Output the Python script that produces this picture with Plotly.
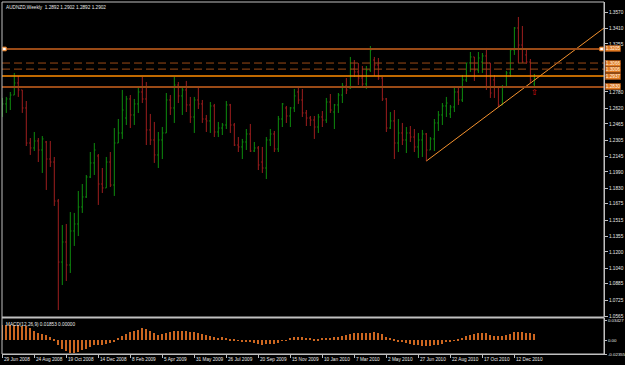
import plotly.graph_objects as go

# ---------------- data (AUDNZD weekly, bars from 29 Jun 2008) ----------------
opens = [1.2563,1.2662,1.2711,1.2750,1.2869,1.2800,1.2622,1.2276,1.2227,1.2296,
         1.2207,1.2286,1.2118,1.2088,1.1703,1.1100,1.1298,1.1071,1.1407,1.1476,
         1.1644,1.1743,1.1940,1.2079,1.2148,1.1871,1.1832,1.2088,1.1861,1.2276,
         1.2375,1.2523,1.2711,1.2553,1.2662,1.2780,1.2711,1.2405,1.2306,1.2158,
         1.2306,1.2375,1.2701,1.2622,1.2849,1.2741,1.2800,1.2652,1.2533,1.2701,
         1.2662,1.2513,1.2494,1.2642,1.2385,1.2424,1.2454,1.2652,1.2454,1.2256,
         1.2237,1.2286,1.2365,1.2197,1.2227,1.2088,1.2029,1.2306,1.2365,1.2217,
         1.2513,1.2622,1.2543,1.2622,1.2780,1.2701,1.2573,1.2523,1.2503,1.2434,
         1.2533,1.2503,1.2681,1.2582,1.2652,1.2750,1.2839,1.2820,1.3007,1.2978,
         1.2918,1.2859,1.2997,1.3096,1.3047,1.2918,1.2711,1.2424,1.2494,1.2276,
         1.2375,1.2306,1.2375,1.2335,1.2237,1.2306,1.2365,1.2207,1.2316,1.2474,
         1.2553,1.2642,1.2563,1.2632,1.2780,1.2701,1.2899,1.3067,1.3126,1.2997,
         1.3076,1.3136,1.3067,1.2899,1.2829,1.2652,1.2829,1.2968,1.3195,1.3412,
         1.3244,1.3146,1.3076,1.2859]
highs = [1.2721,1.2731,1.2780,1.2968,1.2938,1.2800,1.2691,1.2325,1.2385,1.2325,
         1.2345,1.2296,1.2296,1.2138,1.1723,1.1466,1.1476,1.1594,1.1585,1.1802,
         1.1871,1.1960,1.2187,1.2276,1.2167,1.2029,1.2138,1.2187,1.2424,1.2513,
         1.2800,1.2741,1.2750,1.2711,1.2820,1.2928,1.2879,1.2563,1.2484,1.2385,
         1.2434,1.2770,1.2750,1.2928,1.2879,1.2839,1.2889,1.2731,1.2731,1.2829,
         1.2701,1.2553,1.2681,1.2662,1.2484,1.2474,1.2691,1.2662,1.2474,1.2335,
         1.2316,1.2414,1.2464,1.2286,1.2246,1.2237,1.2335,1.2414,1.2395,1.2543,
         1.2671,1.2642,1.2632,1.2810,1.2829,1.2810,1.2602,1.2543,1.2543,1.2563,
         1.2592,1.2721,1.2760,1.2662,1.2770,1.2869,1.2918,1.3126,1.3096,1.3067,
         1.3037,1.3037,1.3234,1.3126,1.3116,1.2928,1.2721,1.2582,1.2602,1.2513,
         1.2474,1.2434,1.2444,1.2414,1.2375,1.2405,1.2375,1.2335,1.2513,1.2592,
         1.2671,1.2731,1.2652,1.2829,1.2829,1.2948,1.3067,1.3175,1.3126,1.3175,
         1.3165,1.3215,1.3067,1.2948,1.2839,1.2849,1.2988,1.3215,1.3422,1.3521,
         1.3432,1.3205,1.3106,1.2958]
lows = [1.2533,1.2573,1.2602,1.2750,1.2731,1.2573,1.2246,1.2158,1.2197,1.2088,
        1.1980,1.1812,1.2039,1.1654,1.0626,1.0873,1.0913,1.0992,1.1259,1.1357,
        1.1585,1.1733,1.1930,1.1960,1.1664,1.1782,1.1832,1.1841,1.1753,1.2276,
        1.2316,1.2454,1.2424,1.2454,1.2573,1.2671,1.2256,1.2256,1.2079,1.2029,
        1.2118,1.2375,1.2553,1.2474,1.2671,1.2553,1.2582,1.2474,1.2375,1.2612,
        1.2474,1.2385,1.2375,1.2335,1.2335,1.2355,1.2414,1.2375,1.2246,1.2187,
        1.2118,1.2207,1.2187,1.2187,1.2009,1.1980,1.1920,1.2246,1.2187,1.2187,
        1.2434,1.2474,1.2434,1.2582,1.2662,1.2533,1.2444,1.2444,1.2316,1.2375,
        1.2434,1.2474,1.2573,1.2414,1.2573,1.2671,1.2760,1.2810,1.2928,1.2849,
        1.2820,1.2810,1.2978,1.2938,1.2899,1.2691,1.2385,1.2414,1.2118,1.2187,
        1.2256,1.2177,1.2286,1.2187,1.2128,1.2138,1.2098,1.2207,1.2197,1.2395,
        1.2454,1.2533,1.2523,1.2582,1.2652,1.2681,1.2879,1.2978,1.2889,1.2968,
        1.2968,1.2800,1.2721,1.2721,1.2632,1.2652,1.2829,1.2928,1.3146,1.3067,
        1.3067,1.3057,1.2869,1.2829]
closes = [1.2662,1.2711,1.2750,1.2869,1.2800,1.2622,1.2276,1.2227,1.2296,1.2207,
          1.2316,1.2118,1.2088,1.1703,1.1100,1.1298,1.1071,1.1407,1.1476,1.1644,
          1.1743,1.1940,1.2079,1.2207,1.1871,1.1832,1.2088,1.1861,1.2276,1.2375,
          1.2602,1.2711,1.2553,1.2662,1.2780,1.2711,1.2405,1.2306,1.2158,1.2306,
          1.2375,1.2701,1.2622,1.2849,1.2741,1.2800,1.2652,1.2533,1.2701,1.2662,
          1.2513,1.2494,1.2642,1.2385,1.2424,1.2454,1.2652,1.2454,1.2256,1.2237,
          1.2286,1.2365,1.2197,1.2227,1.2059,1.2029,1.2306,1.2365,1.2217,1.2513,
          1.2662,1.2543,1.2622,1.2741,1.2701,1.2573,1.2523,1.2503,1.2434,1.2533,
          1.2503,1.2681,1.2602,1.2652,1.2750,1.2839,1.2800,1.3007,1.2978,1.2918,
          1.2859,1.2997,1.3195,1.3047,1.2918,1.2711,1.2424,1.2494,1.2276,1.2375,
          1.2306,1.2375,1.2335,1.2237,1.2306,1.2365,1.2207,1.2316,1.2474,1.2553,
          1.2642,1.2671,1.2632,1.2780,1.2701,1.2899,1.3067,1.3126,1.2997,1.3116,
          1.3136,1.3067,1.2770,1.2829,1.2652,1.2829,1.2968,1.3195,1.3412,1.3244,
          1.3076,1.3076,1.2899,1.2902]
macd_hist = [0.0272,0.0272,0.0272,0.0272,0.0261,0.0255,0.0249,0.0210,0.0159,0.0136,
             0.0113,0.0096,0.0068,0.0028,-0.0074,-0.0142,-0.0187,-0.0210,-0.0210,-0.0198,
             -0.0170,-0.0142,-0.0113,-0.0085,-0.0074,-0.0074,-0.0057,-0.0045,-0.0028,0.0040,
             0.0074,0.0113,0.0142,0.0159,0.0187,0.0210,0.0198,0.0170,0.0125,0.0096,
             0.0113,0.0130,0.0142,0.0159,0.0170,0.0170,0.0159,0.0153,0.0142,0.0125,
             0.0113,0.0102,0.0085,0.0068,0.0051,0.0057,0.0045,0.0028,0.0011,-0.0006,
             -0.0011,-0.0017,-0.0028,-0.0045,-0.0062,-0.0074,-0.0068,-0.0057,-0.0057,-0.0045,
             -0.0006,0.0006,0.0045,0.0062,0.0068,0.0062,0.0045,0.0040,0.0028,0.0028,
             0.0040,0.0045,0.0045,0.0057,0.0068,0.0079,0.0096,0.0113,0.0130,0.0130,
             0.0130,0.0130,0.0136,0.0142,0.0130,0.0108,0.0068,0.0040,0.0011,-0.0017,
             -0.0028,-0.0045,-0.0057,-0.0074,-0.0085,-0.0096,-0.0102,-0.0096,-0.0085,-0.0074,
             -0.0057,-0.0034,-0.0011,0.0006,0.0023,0.0040,0.0074,0.0102,0.0113,0.0136,
             0.0130,0.0125,0.0102,0.0085,0.0074,0.0079,0.0096,0.0113,0.0142,0.0153,
             0.0147,0.0136,0.0125,0.0113]

date_labels = ["29 Jun 2008", "24 Aug 2008", "19 Oct 2008", "14 Dec 2008", "8 Feb 2009",
               "5 Apr 2009", "31 May 2009", "26 Jul 2009", "20 Sep 2009", "15 Nov 2009",
               "10 Jan 2010", "7 Mar 2010", "2 May 2010", "27 Jun 2010", "22 Aug 2010",
               "17 Oct 2010", "12 Dec 2010"]
date_label_bars = [0, 8, 16, 24, 32, 40, 48, 56, 64, 72, 80, 88, 96, 104, 112, 120, 128]

# tick levels of the price scale; labels covered by the level boxes are left blank
price_tick_vals = [1.3570, 1.3410, 1.3255, 1.3095, 1.2940, 1.2780, 1.2620,
                   1.2465, 1.2305, 1.2145, 1.1990, 1.1830, 1.1675, 1.1515,
                   1.1355, 1.1200, 1.1040, 1.0885, 1.0725, 1.0565]
price_tick_text = ["1.3570", "1.3410", "1.3255", "", "", "1.2780", "1.2620",
                   "1.2465", "1.2305", "1.2145", "1.1990", "1.1830", "1.1675", "1.1515",
                   "1.1355", "1.1200", "1.1040", "1.0885", "1.0725", "1.0565"]
macd_tick_vals = [0.03427, 0.0, -0.02355]
macd_tick_text = ["0.03427", "0.00", "-0.02355"]

# horizontal levels: (price, label, style)
level_prices = [1.3205, 1.3066, 1.3006, 1.2937, 1.2830]
level_labels = ["1.3205", "1.3066", "1.3006", "1.2937", "1.2830"]
level_styles = ["brown", "dash", "dash", "orange", "brown"]

trend_bars = [106, 133]
trend_prices = [1.2098, 1.2897]
arrow_bar = 133
arrow_price = 1.2775

title_text = "AUDNZD,Weekly  1.2892 1.2902 1.2892 1.2902"
macd_title = "MACD(12,26,9) 0.01853 0.00000"

# ---------------- styling ----------------
GREEN = "#0E8C0E"
RED = "#9E1E1E"
BROWN = "#9A4A16"
ORANGE = "#FF8C00"
TREND = "#F5922E"
HIST = "#CC6620"
FRAME = "#C0C0C0"
TXT = "#E8E8E8"
FONT = "Liberation Sans"
FS = 4.7

n = len(closes)
xs = list(range(n))
X_RANGE = [-0.075, 150.4]
Y_RANGE = [1.0557, 1.3669]
M_RANGE = [-0.02355, 0.0390]

fig = go.Figure()
fig.add_trace(go.Ohlc(
    x=xs, open=opens, high=highs, low=lows, close=closes,
    increasing=dict(line=dict(color=GREEN, width=1)),
    decreasing=dict(line=dict(color=RED, width=1)),
    tickwidth=0.3, xaxis="x", yaxis="y", showlegend=False, hoverinfo="skip"))

fig.add_trace(go.Bar(
    x=xs, y=macd_hist, width=0.25, marker=dict(color=HIST, line=dict(width=0)),
    xaxis="x2", yaxis="y2", showlegend=False, hoverinfo="skip"))

# trendline ray extended to the right edge
slope = (trend_prices[1] - trend_prices[0]) / (trend_bars[1] - trend_bars[0])
tx = [trend_bars[0], X_RANGE[1]]
ty = [trend_prices[0], trend_prices[0] + slope * (X_RANGE[1] - trend_bars[0])]
fig.add_trace(go.Scatter(x=tx, y=ty, mode="lines", line=dict(color=TREND, width=1),
                         xaxis="x", yaxis="y", showlegend=False, hoverinfo="skip"))

shapes = []
annotations = []
for p, lab, st in zip(level_prices, level_labels, level_styles):
    if st == "brown":
        line = dict(color=BROWN, width=2)
    elif st == "dash":
        line = dict(color=BROWN, width=1, dash="8px,4px")
    else:
        line = dict(color=ORANGE, width=1.5)
    shapes.append(dict(type="line", xref="paper", yref="y", x0=0, x1=1, y0=p, y1=p,
                       line=line, layer="above"))
    annotations.append(dict(xref="paper", yref="y", x=1, y=p, xanchor="left", yanchor="middle",
                            xshift=1, text=lab, showarrow=False, bgcolor="#E07A22",
                            bordercolor="#7A3A10", borderwidth=0.5, borderpad=0.3,
                            font=dict(family=FONT, size=FS, color="#FFF4E0")))

# arrow object below the last bar
annotations.append(dict(xref="x", yref="y", x=arrow_bar, y=arrow_price, text="⇧",
                        showarrow=False, xanchor="center", yanchor="middle",
                        font=dict(family="DejaVu Sans", size=8, color="#E01010")))

# selection handles of the top level line
for hx in [0.004, 0.996]:
    shapes.append(dict(type="rect", xref="paper", yref="y", x0=hx - 0.003, x1=hx + 0.003,
                       y0=level_prices[0] - 0.0018, y1=level_prices[0] + 0.0018,
                       line=dict(color="#F08020", width=1), fillcolor="#FFFFFF", layer="above"))

# frame lines
shapes.append(dict(type="rect", xref="paper", yref="paper", x0=0, x1=1, y0=0, y1=1,
                   line=dict(color=FRAME, width=1)))
shapes.append(dict(type="line", xref="paper", yref="paper", x0=0, x1=1, y0=0.1037, y1=0.1037,
                   line=dict(color=FRAME, width=2)))

annotations.append(dict(xref="paper", yref="paper", x=0, y=1, xanchor="left", yanchor="top",
                        xshift=2, yshift=-1, text=title_text, showarrow=False,
                        font=dict(family=FONT, size=FS, color=TXT)))
annotations.append(dict(xref="paper", yref="paper", x=0, y=0.1, xanchor="left", yanchor="top",
                        xshift=2, yshift=-1, text=macd_title, showarrow=False,
                        font=dict(family=FONT, size=FS, color=TXT)))
for b, lab in zip(date_label_bars, date_labels):
    annotations.append(dict(xref="x2", yref="paper", x=b, y=0, xanchor="left", yanchor="top",
                            xshift=0, yshift=-1, text=lab, showarrow=False,
                            font=dict(family=FONT, size=FS, color=TXT)))

axis_common = dict(showgrid=False, zeroline=False, automargin=False, fixedrange=True)

fig.update_layout(
    width=625, height=365, template="none",
    paper_bgcolor="#000000", plot_bgcolor="#000000",
    margin=dict(l=2, r=21, t=2, b=11),
    showlegend=False, bargap=0,
    xaxis=dict(domain=[0, 1], range=X_RANGE, anchor="y", showticklabels=False,
               ticks="", showline=False, rangeslider=dict(visible=False), **axis_common),
    xaxis2=dict(domain=[0, 1], range=X_RANGE, anchor="y2", showticklabels=False,
                ticks="outside", ticklen=3, tickcolor=FRAME, tickvals=date_label_bars,
                showline=True, linecolor=FRAME, linewidth=1, **axis_common),
    yaxis=dict(domain=[0.1051, 1], range=Y_RANGE, side="right", anchor="x",
               tickvals=price_tick_vals, ticktext=price_tick_text,
               ticks="outside", ticklen=3, tickcolor=FRAME,
               tickfont=dict(family=FONT, size=FS, color=TXT),
               showline=True, linecolor=FRAME, linewidth=1, **axis_common),
    yaxis2=dict(domain=[0, 0.1023], range=M_RANGE, side="right", anchor="x2",
                tickvals=macd_tick_vals, ticktext=macd_tick_text,
                ticks="outside", ticklen=2, tickcolor=FRAME,
                tickfont=dict(family=FONT, size=4.4, color=TXT),
                showline=True, linecolor=FRAME, linewidth=1, **axis_common),
    shapes=shapes, annotations=annotations,
)

fig.write_html("out.html")
